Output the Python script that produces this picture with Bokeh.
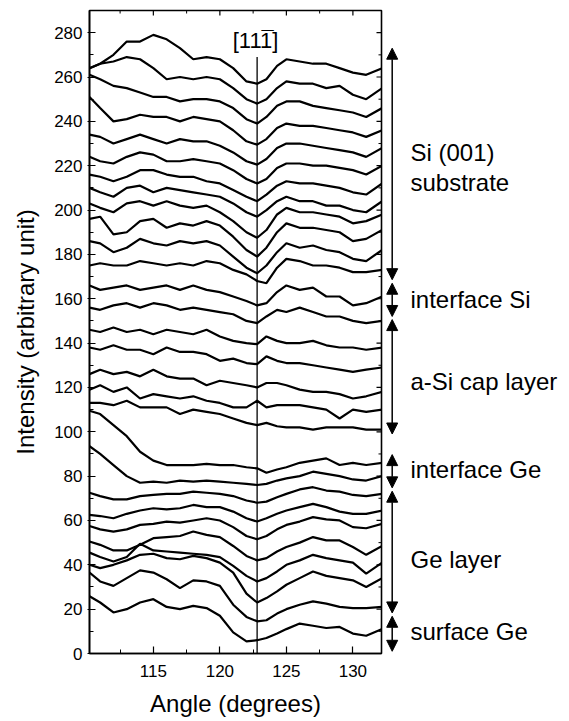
from bokeh.plotting import figure
from bokeh.models import Range1d, SingleIntervalTicker, Arrow, NormalHead, ColumnDataSource
from bokeh.layouts import row
from bokeh.core.properties import value
from bokeh.embed import file_html
from bokeh.resources import INLINE

FONT = "Liberation Sans"

# ---------------- data ----------------
angle = [110.2, 111, 112, 113, 114, 115, 116, 117, 118, 119, 120, 121, 122, 122.8,
         123.5, 124.3, 125, 126, 127, 128, 129, 130, 131, 132.2]

# Si (001) substrate
si_sub_01 = [264, 266, 270, 276, 276, 279, 277, 273, 268, 269, 268, 264, 258, 257, 259, 265, 268, 267, 266, 266, 264, 262, 261, 264]
si_sub_02 = [264, 266, 267, 269, 268, 264, 259, 260, 259, 260, 259, 255, 250, 248, 250, 255, 258, 257, 257, 255, 256, 252, 250, 255]
si_sub_03 = [261, 259, 256, 255, 253, 251, 251, 249, 250, 250, 249, 246, 241, 239, 242, 247, 249, 249, 247, 246, 245, 244, 242, 246]
si_sub_04 = [251, 246, 240, 241, 243, 242, 242, 240, 242, 241, 240, 236, 231, 229.5, 232, 237, 239, 238, 238, 237, 236, 235, 233, 236]
si_sub_05 = [234, 233, 230, 232, 234, 232, 230, 232, 231, 231, 229, 226, 222, 220.5, 223, 228, 230, 230, 229, 228, 227, 226, 224, 228]
si_sub_06 = [224, 222, 221, 224, 226, 225, 222, 222, 223, 222, 221, 218, 214, 212, 214, 219, 221, 221, 220, 220, 219, 218, 216, 220]
si_sub_07 = [216, 215, 213, 215, 218, 218, 216, 215, 215, 213, 212, 209, 206, 204, 207, 211, 213, 212, 212, 211, 210, 208, 207, 212]
si_sub_08 = [210, 208, 206, 210, 211, 208, 210, 209, 208, 207, 206, 203, 199, 197, 200, 204, 206, 204, 204, 202, 202, 200, 199, 204]
si_sub_09 = [203, 201, 199, 203, 204, 202, 204, 202, 201, 202, 199, 195, 190, 187.5, 191, 198, 201, 199, 199, 198, 197, 194, 195, 198]
si_sub_10 = [196, 197, 189, 190, 195, 196, 192, 194, 193, 195, 193, 188, 182, 179, 183, 190, 194, 192, 192, 191, 190, 186, 187, 191]
si_sub_11 = [186, 185, 181, 183, 187, 185, 184, 186, 185, 186, 184, 179, 174, 171.5, 175, 181, 185, 183, 184, 182, 181, 178, 177, 182]
si_sub_12 = [175, 176, 175, 175, 177, 176, 175, 176, 175, 177, 176, 173, 171, 168, 167, 174, 178, 177, 175, 175, 174, 172, 172, 173]
# interface Si
if_si_1 = [166, 164, 165, 166, 164, 165, 166, 164, 166, 164, 163, 161, 159, 157, 158, 163, 166, 164, 165, 161, 161, 157, 158, 161]
if_si_2 = [156, 155, 157, 158, 156, 158, 157, 155, 156, 155, 154, 153, 150, 149, 152, 155, 154, 156, 154, 152, 152, 150, 149, 150]
# a-Si cap layer
cap_1 = [146, 145, 147, 145, 146, 144, 146, 145, 144, 146, 143, 141, 140, 139.5, 143, 141, 140, 140, 141, 139, 138, 138, 137, 138]
cap_2 = [138, 137, 139, 137, 137, 135, 138, 136, 136, 135, 132, 133, 131, 130.5, 134, 132, 131, 131, 130, 129, 128, 127, 128, 129]
cap_3 = [126, 128, 126, 127, 125, 128, 125, 124, 124, 121, 123, 122, 121, 120, 122, 122, 121, 119, 118, 118, 117, 115, 116, 118]
cap_4 = [119, 121, 118, 120, 115, 117, 116, 115, 116, 114, 113, 111, 111, 114, 111, 112, 112, 112, 111, 110, 106, 110, 109, 110]
cap_5 = [113, 113, 112, 114, 111, 111, 111, 108, 110, 109, 108, 106, 104, 103, 104, 102.5, 102, 102, 101, 102, 102, 102, 101, 101]
# interface Ge
if_ge_1 = [109.5, 108, 103, 98, 91, 87, 85, 85, 85, 85.5, 85, 85, 84, 83.5, 81.5, 83, 84, 86, 87, 88, 85, 86, 85, 86]
if_ge_2 = [93.5, 90, 85, 80, 77, 77.5, 77, 78, 77.5, 78, 77.5, 77, 76.5, 76, 76.5, 78, 79, 80, 82, 81, 80, 78.5, 78, 80]
# Ge layer
ge_1 = [72.5, 71, 69.5, 69.5, 71, 71.5, 72, 72, 73, 72.5, 72, 71, 69, 68, 68.5, 70.5, 72, 74, 75, 73.5, 73, 71.5, 71, 72]
ge_2 = [62.5, 62, 61, 63, 64.5, 65.5, 65, 65.5, 67, 66, 66, 64, 61, 59.5, 61, 63, 64.5, 66, 67.5, 66, 64, 63, 63, 64.5]
ge_3 = [57.5, 56, 55, 56, 58, 58.5, 59.5, 59, 60, 61, 60, 57, 53, 51.5, 53, 56, 58, 59.5, 61.5, 60.5, 60, 57, 56.5, 58.5]
ge_4 = [50.5, 49, 46.5, 46.5, 49, 52, 52.5, 53, 55, 53.5, 52.5, 48.5, 44, 42, 43, 46, 48, 50, 52.5, 51, 51, 48, 44.5, 48.5]
ge_5 = [45.5, 43.5, 41.5, 43.5, 49.5, 46.5, 46, 45.5, 45, 44.5, 43.5, 39.5, 35, 32.5, 34, 37, 40, 42, 44.5, 43, 42, 41, 36, 41]
ge_6 = [40, 38.5, 40, 42, 44.5, 45, 43, 42.5, 44, 43, 41, 36.5, 27, 23, 25, 28, 31, 34, 37, 35, 34, 33, 30, 34]
# surface Ge
surf_ge_1 = [36.5, 32.5, 30.5, 34, 37.5, 36.5, 33.5, 29.5, 33, 32.5, 30.5, 22, 16.5, 14.5, 15, 18, 20, 22, 23.5, 22.5, 21, 20.5, 20.5, 21]
surf_ge_2 = [25.8, 23, 18.5, 20, 23, 24.5, 21, 20, 21.5, 20.5, 17, 9.5, 5.5, 6, 7, 9, 11, 13.5, 12.5, 11.5, 12, 9, 8, 11]

series = [si_sub_01, si_sub_02, si_sub_03, si_sub_04, si_sub_05, si_sub_06, si_sub_07,
          si_sub_08, si_sub_09, si_sub_10, si_sub_11, si_sub_12, if_si_1, if_si_2,
          cap_1, cap_2, cap_3, cap_4, cap_5, if_ge_1, if_ge_2,
          ge_1, ge_2, ge_3, ge_4, ge_5, ge_6, surf_ge_1, surf_ge_2]

X_MIN, X_MAX = 110.2, 132.15
Y_MIN, Y_MAX = 0, 290
x_major_ticks = [115, 120, 125, 130]
x_minor_ticks = [112.5, 117.5, 122.5, 127.5]
y_major_ticks = list(range(0, 281, 20))
y_minor_ticks = list(range(10, 281, 20))

direction_angle = 122.8
direction_top = 269
direction_label = "[111]"

# layer annotation spans (top, bottom) and label positions
group_top = [273, 167, 150.6, 89.7, 73.2, 16.8]
group_bottom = [168.6, 152, 99, 74.7, 18.3, 1.0]
group_labels = ["Si (001)", "substrate", "interface Si", "a-Si cap layer", "interface Ge", "Ge layer", "surface Ge"]
group_label_y = [226, 212.5, 159.6, 122.8, 83, 42.4, 10]

# ---------------- main plot ----------------
FRAME_W, FRAME_H = 292, 643
BL, BR, BT, BB = 89, 3, 10, 66
p = figure(width=BL + FRAME_W + BR, height=BT + FRAME_H + BB,
           x_range=Range1d(X_MIN, X_MAX), y_range=Range1d(Y_MIN, Y_MAX),
           output_backend="svg", toolbar_location=None,
           min_border_left=BL, min_border_right=BR, min_border_top=BT, min_border_bottom=BB,
           x_axis_label="Angle (degrees)", y_axis_label="Intensity (arbitrary unit)")
p.grid.visible = False
p.outline_line_color = "black"
p.outline_line_width = 1.6
p.background_fill_color = "white"
p.border_fill_color = "white"

for ax in p.xaxis:
    ax.ticker = SingleIntervalTicker(interval=5, num_minor_ticks=2)
    ax.major_tick_in = 7
    ax.major_tick_out = 0
    ax.minor_tick_in = 4
    ax.minor_tick_out = 0
    ax.major_label_standoff = 11
    ax.axis_label_standoff = 10
for ax in p.yaxis:
    ax.ticker = SingleIntervalTicker(interval=20, num_minor_ticks=2)
    ax.major_tick_in = 6
    ax.major_tick_out = 2
    ax.minor_tick_in = 4
    ax.minor_tick_out = 0
    ax.major_label_standoff = 5
    ax.axis_label_standoff = 12
for ax in list(p.xaxis) + list(p.yaxis):
    ax.axis_line_width = 1.6
    ax.axis_line_color = "black"
    ax.major_tick_line_color = "black"
    ax.minor_tick_line_color = "black"
    ax.major_tick_line_width = 1.2
    ax.major_label_text_font = FONT
    ax.major_label_text_font_size = "17px"
    ax.major_label_text_color = "black"
    ax.axis_label_text_font = FONT
    ax.axis_label_text_font_size = "24px"
    ax.axis_label_text_font_style = "normal"
    ax.axis_label_text_color = "black"

# inward ticks on the top and right edges of the frame (mirror of the axes)
px_x = (X_MAX - X_MIN) / FRAME_W
px_y = (Y_MAX - Y_MIN) / FRAME_H
p.segment(x0=x_major_ticks, y0=[Y_MAX] * 4, x1=x_major_ticks, y1=[Y_MAX - 5 * px_y] * 4,
          line_color="black", line_width=1.2)
p.segment(x0=x_minor_ticks, y0=[Y_MAX] * 4, x1=x_minor_ticks, y1=[Y_MAX - 3 * px_y] * 4,
          line_color="black", line_width=1)
p.segment(x0=[X_MAX] * len(y_major_ticks), y0=y_major_ticks,
          x1=[X_MAX - 5 * px_x] * len(y_major_ticks), y1=y_major_ticks,
          line_color="black", line_width=1.2)
p.segment(x0=[X_MAX] * len(y_minor_ticks), y0=y_minor_ticks,
          x1=[X_MAX - 3 * px_x] * len(y_minor_ticks), y1=y_minor_ticks,
          line_color="black", line_width=1)

for s in series:
    p.line(angle, s, line_color="black", line_width=2.2)

p.segment(x0=[direction_angle], y0=[0], x1=[direction_angle], y1=[direction_top],
          line_color="black", line_width=1.3)
p.text(x=[direction_angle - 0.12], y=[276.5], text=[direction_label], text_font=value(FONT),
       text_font_size=value("22px"), text_align="center", text_baseline="middle", text_color="black")
p.text(x=[direction_angle - 0.12], y=[276.5], text=["\u00af"], x_offset=12, y_offset=-1,
       text_font=value(FONT), text_font_size=value("22px"), text_align="center",
       text_baseline="middle", text_color="black")

# ---------------- annotation panel ----------------
Q_W = 569 - (BL + FRAME_W + BR)
q = figure(width=Q_W, height=BT + FRAME_H + BB, x_range=Range1d(0, Q_W), y_range=p.y_range,
           output_backend="svg", toolbar_location=None,
           x_axis_location=None, y_axis_location=None,
           min_border_left=0, min_border_right=0, min_border_top=BT, min_border_bottom=BB)
q.grid.visible = False
q.outline_line_color = None
q.background_fill_color = "white"
q.border_fill_color = "white"

arrow_x = 7.7
src = ColumnDataSource(dict(x=[arrow_x] * len(group_top), y0=group_bottom, y1=group_top))
q.add_layout(Arrow(x_start="x", y_start="y0", x_end="x", y_end="y1", source=src,
                   line_color="black", line_width=1.5,
                   start=NormalHead(size=11, fill_color="black", line_color="black", line_width=1),
                   end=NormalHead(size=11, fill_color="black", line_color="black", line_width=1)))

q.text(x=[26] * len(group_labels), y=group_label_y, text=group_labels, text_font=value(FONT),
       text_font_size=value("24px"), text_align="left", text_baseline="middle", text_color="black")

layout = row(p, q)
open("out.html", "w").write(file_html(layout, INLINE))
